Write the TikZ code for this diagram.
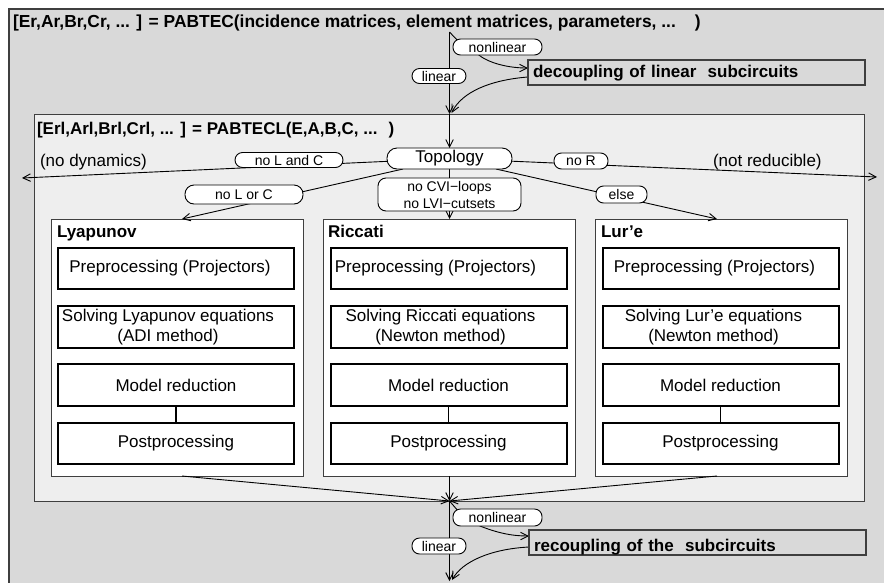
\documentclass[tikz,border=0pt]{standalone}
\usepackage{fontspec}
\setmainfont{Liberation Sans}
\usetikzlibrary{arrows.meta,calc}
\definecolor{outerfill}{HTML}{D9D9D9}
\definecolor{innerfill}{HTML}{EEEEEE}
\definecolor{framegray}{HTML}{3F3F3F}
\pgfdeclarelayer{front}
\pgfsetlayers{main,front}
\begin{document}
\begin{tikzpicture}[x=1pt,y=-1pt,
  every node/.style={inner sep=0pt,outer sep=0pt},
  txt/.style={font=\fontsize{17}{20}\selectfont},
  boldtxt/.style={font=\fontsize{17}{20}\selectfont\bfseries},
  smalltxt/.style={font=\fontsize{14}{17}\selectfont},
  conn/.style={line width=0.9pt,black},
  arr/.style={conn,-{Straight Barb[length=7.5pt,width=7.5pt]}},
  pill/.style={draw,line width=0.9pt,fill=white,rounded corners=7.5pt,minimum height=16pt,smalltxt},
  colbox/.style={draw=framegray,line width=0.9pt,fill=white,minimum width=252pt,minimum height=257pt},
  stepbox/.style={draw,line width=2pt,fill=white,minimum width=236pt,minimum height=41pt,txt,align=center},
  banner/.style={draw=framegray,line width=1.3pt,fill=outerfill,boldtxt,anchor=base west,align=left,inner xsep=5pt},
]
\useasboundingbox (0,0) rectangle (884,582);
\clip (0,0) rectangle (884,582);
\fill[white] (0,0) rectangle (884,582);

% outer function frame (runs past the page on the right and bottom)
\node[draw=framegray,line width=1.3pt,fill=outerfill,anchor=north west,
      minimum width=900pt,minimum height=600pt] (pabtec) at (9,9) {};
\node[boldtxt,font=\fontsize{17.4}{20}\selectfont\bfseries,anchor=base west] (pabtecT) at (13,27)
  {[Er,Ar,Br,Cr, ... ] = PABTEC(incidence matrices, element matrices, parameters, ...\hspace{19pt})};

% inner function frame
\node[draw=framegray,line width=1pt,fill=innerfill,anchor=north west,
      minimum width=830pt,minimum height=387pt] (pabtecl) at (34,114) {};
\node[boldtxt,anchor=base west] (pabteclT) at (37,134)
  {[Erl,Arl,Brl,Crl, ... ] = PABTECL(E,A,B,C, ...~ )};

% the three reduction branches
\foreach \n/\cx/\ttl/\tx/\po/\solve in {
    lyap/177/Lyapunov/57/12/{Solving Lyapunov equations\hspace*{16pt}\\(ADI method)\hspace*{16pt}},
    ricc/449.5/Riccati/328/26/{Solving Riccati equations\hspace*{16pt}\\(Newton method)\hspace*{16pt}},
    lure/721.5/Lur’e/601/12/{Solving Lur’e equations\hspace*{14pt}\\(Newton method)\hspace*{14pt}}}{
  \node[colbox] (\n) at (\cx,347.5) {};
  \node[boldtxt,anchor=base west] (\n-title) at (\tx,237) {\ttl};
  \node[stepbox] (\n-pre) at (\cx-1,268.5) {Preprocessing (Projectors)\hspace*{\po pt}};
  \node[stepbox,minimum height=42pt] (\n-solve) at (\cx-1,327) {\solve};
  \node[stepbox,minimum height=42pt] (\n-model) at (\cx-1,385) {Model reduction};
  \node[stepbox] (\n-post) at (\cx-1,443.5) {Postprocessing};
  \draw[line width=1.2pt] (\n-model) -- (\n-post);
}

% side labels
\node[txt,anchor=base west] (nodyn) at (40,166) {(no dynamics)};
\node[txt,anchor=base west] (notred) at (713,166) {(not reducible)};

% labels and boxes that sit on top of the connectors
\begin{pgfonlayer}{front}
  \node[pill,minimum width=89pt] (nl1) at (497.5,47) {nonlinear};
  \node[pill,minimum width=54pt,minimum height=15pt] (lin1) at (439,76) {linear};
  \node[banner,text width=327pt,text height=17pt,text depth=8pt] (decoup) at (528,77)
    {decoupling of linear~ subcircuits};

  \node[draw,line width=0.9pt,fill=white,rounded corners=10pt,minimum width=125pt,
        minimum height=21pt,txt] (topo) at (449.5,158.5) {Topology};
  \node[draw,line width=0.9pt,fill=white,rounded corners=8pt,minimum width=143pt,
        minimum height=33pt,smalltxt,align=center] (cvi) at (449.5,194.5)
        {no CVI−loops\\no LVI−cutsets};
  \node[pill,minimum width=108pt,minimum height=15pt] (noLC) at (289,160) {no L and C};
  \node[pill,minimum width=118pt,minimum height=19pt,rounded corners=9pt] (noLoC) at (244,194.5) {no L or C};
  \node[pill,minimum width=54pt] (noR) at (581,161) {no R};
  \node[pill,minimum width=51pt,minimum height=17pt] (else) at (621.5,194.5) {else};

  \node[pill,minimum width=89pt,minimum height=17pt] (nl2) at (497.5,517.5) {nonlinear};
  \node[pill,minimum width=54pt] (lin2) at (439,546) {linear};
  \node[banner,text width=327pt,text height=21pt,text depth=4pt] (recoup) at (529,551)
    {recoupling of the~ subcircuits};
\end{pgfonlayer}

% top: splitting into linear / nonlinear parts
\coordinate (split) at (449.5,32);
\coordinate (inTop) at (pabtecl.north -| split);
\draw[arr] (split) -- (inTop);
\draw[conn] (split) -- ($(nl1.north west)+(6,3)$);
\draw[arr] ($(nl1.south)+(-20,-1)$) .. controls (488,63) and (508,68) .. ($(decoup.west)+(0,-4.5)$);
\draw[arr] ($(decoup.west)+(0,4.5)$) .. controls (490,80) and (462,92) .. ($(inTop)+(2,-1)$);

% topology based branching
\coordinate (nodynEnd) at (22,178);
\coordinate (notredEnd) at (877,177);
\draw[arr] (inTop) -- (topo);
\draw[arr] (topo) -- (nodynEnd);
\draw[arr] (topo) -- (notredEnd);
\draw[arr] (topo) -- ($(lyap.north)+(5,0)$);
\draw[arr] (topo) -- (ricc.north);
\draw[arr] (topo) -- ($(lure.north)+(-4.5,0)$);

% bottom: merging and recoupling
\coordinate (join) at (pabtecl.south -| split);
\coordinate (bottomEnd) at (449.5,581);
\draw[arr] ($(lyap.south)+(5,0)$) -- (join);
\draw[arr] (ricc.south) -- (join);
\draw[arr] ($(lure.south)+(-4.5,0)$) -- (join);
\draw[arr] (join) -- (bottomEnd);
\draw[conn] (join) -- ($(nl2.north west)+(6,3)$);
\draw[arr] ($(nl2.south)+(-20,-1)$) .. controls (497,533) and (512,536) .. ($(recoup.west)+(0,-6.5)$);
\draw[arr] ($(recoup.west)+(0,4.5)$) .. controls (490,549) and (462,562) .. ($(bottomEnd)+(2.5,-1)$);
\end{tikzpicture}
\end{document}
